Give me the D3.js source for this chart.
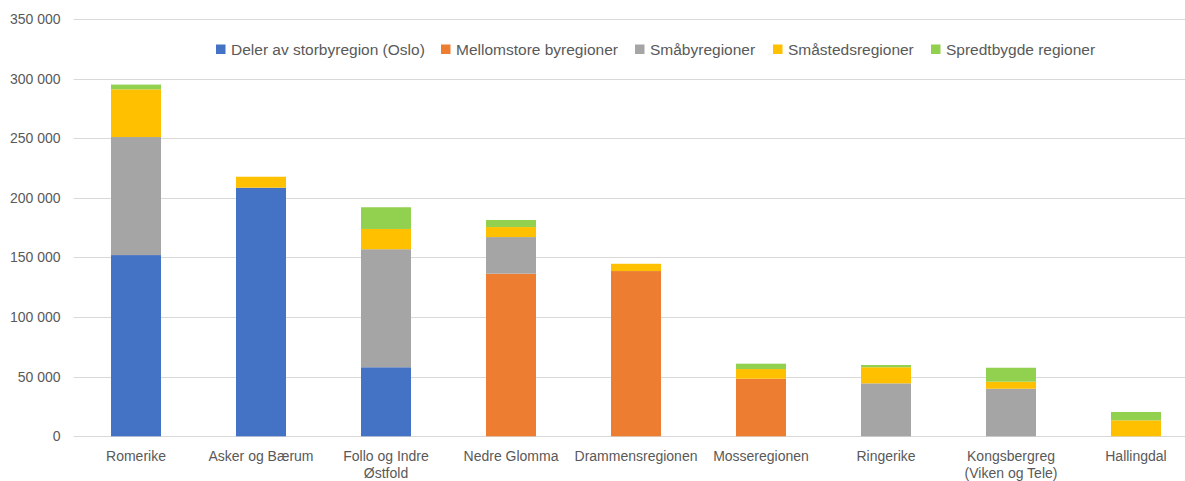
<!DOCTYPE html>
<html>
<head>
<meta charset="utf-8">
<script src="https://cdn.jsdelivr.net/npm/d3@7"></script>
<style>
  body { margin: 0; background: #fff; }
  svg { display: block; font-family: "Liberation Sans", Arial, sans-serif; }
</style>
</head>
<body>
<script>
"use strict";

let categories = [
    ['Romerike'],
    ['Asker og Bærum'],
    ['Follo og Indre', 'Østfold'],
    ['Nedre Glomma'],
    ['Drammensregionen'],
    ['Mosseregionen'],
    ['Ringerike'],
    ['Kongsbergreg', '(Viken og Tele)'],
    ['Hallingdal']
];
let seriesNames = ['Deler av storbyregion (Oslo)', 'Mellomstore byregioner', 'Småbyregioner', 'Småstedsregioner', 'Spredtbygde regioner'];
let seriesColors = ['#4472c4', '#ed7d31', '#a5a5a5', '#ffc000', '#92d050'];

let storby = [152000, 208500, 57900, 0, 0, 0, 0, 0, 0];
let mellomstore = [0, 0, 0, 136400, 138600, 48300, 0, 0, 0];
let smaaby = [99000, 0, 99000, 30700, 0, 0, 44400, 39900, 0];
let smaasted = [40000, 9200, 17000, 8400, 6100, 8100, 13500, 5900, 13400];
let spredt = [4000, 0, 18200, 5900, 0, 4500, 1900, 11700, 7000];

let yTicks = [0, 50000, 100000, 150000, 200000, 250000, 300000, 350000];

(function() {

let width = 1185;
let height = 481;
let plotLeft = 73.5, plotRight = 1198.5, plotTop = 19, plotBottom = 436.3;

let rows = categories.map(function(c, i) {
    return { key: i, s0: storby[i], s1: mellomstore[i], s2: smaaby[i], s3: smaasted[i], s4: spredt[i] };
});
let keys = ['s0', 's1', 's2', 's3', 's4'];
let stacked = d3.stack().keys(keys)(rows);

let x = d3.scaleBand()
    .domain(d3.range(categories.length))
    .range([plotLeft, plotRight])
    .paddingInner(0.6)
    .paddingOuter(0.3);

let y = d3.scaleLinear()
    .domain([0, 350000])
    .range([plotBottom, plotTop]);

let svg = d3.select('body')
    .append('svg')
    .attr('width', width)
    .attr('height', height);

let fmt = function(v) { return d3.format(',')(v).replace(/,/g, ' '); };

// gridlines
svg.append('g')
    .selectAll('line')
    .data(yTicks)
    .enter()
    .append('line')
    .attr('x1', plotLeft)
    .attr('x2', plotRight)
    .attr('y1', function(d) { return Math.round(y(d)) + 0.5; })
    .attr('y2', function(d) { return Math.round(y(d)) + 0.5; })
    .attr('stroke', '#d9d9d9')
    .attr('stroke-width', 1);

// y axis labels
let yAxis = svg.append('g')
    .attr('transform', 'translate(' + (plotLeft - 13) + ',0)')
    .call(d3.axisLeft(y).tickValues(yTicks).tickFormat(fmt).tickSize(0).tickPadding(0));
yAxis.select('.domain').remove();
yAxis.selectAll('text')
    .attr('fill', '#595959')
    .style('font-size', '14px')
    .style('font-family', '"Liberation Sans", Arial, sans-serif');

// bars
svg.append('g')
    .selectAll('g')
    .data(stacked)
    .enter()
    .append('g')
    .attr('fill', function(d, i) { return seriesColors[i]; })
    .selectAll('rect')
    .data(function(d) { return d; })
    .enter()
    .append('rect')
    .attr('x', function(d, i) { return x(i); })
    .attr('width', x.bandwidth())
    .attr('y', function(d) { return y(d[1]); })
    .attr('height', function(d) { return y(d[0]) - y(d[1]); });

// category labels
let xLabels = svg.append('g')
    .selectAll('text')
    .data(categories)
    .enter()
    .append('text')
    .attr('x', function(d, i) { return x(i) + x.bandwidth() / 2; })
    .attr('y', 461)
    .attr('text-anchor', 'middle')
    .attr('fill', '#595959')
    .style('font-size', '14px');
xLabels.selectAll('tspan')
    .data(function(d) { return d; })
    .enter()
    .append('tspan')
    .attr('x', function() { return d3.select(this.parentNode).attr('x'); })
    .attr('dy', function(d, i) { return i === 0 ? 0 : 17; })
    .text(function(d) { return d; });

// legend
let legendX = [216, 441, 635, 773, 931];
let legend = svg.append('g')
    .selectAll('g')
    .data(seriesNames)
    .enter()
    .append('g')
    .attr('transform', function(d, i) { return 'translate(' + legendX[i] + ',49)'; });
legend.append('rect')
    .attr('x', 0)
    .attr('y', -4.5)
    .attr('width', 9.5)
    .attr('height', 9.5)
    .attr('fill', function(d, i) { return seriesColors[i]; });
legend.append('text')
    .attr('x', 15)
    .attr('y', 6)
    .attr('fill', '#595959')
    .style('font-size', '15.5px')
    .text(function(d) { return d; });

})();
</script>
</body>
</html>
